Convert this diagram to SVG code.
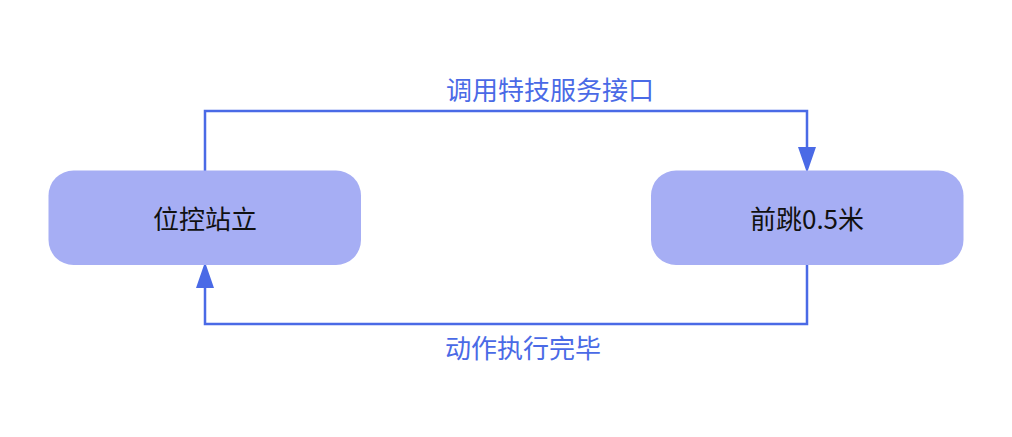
<svg xmlns="http://www.w3.org/2000/svg" width="1012" height="437" viewBox="0 0 1012 437">
<style>
.node{fill:#a6aef4;}
.ntext{font-family:"Noto Sans CJK SC","Noto Sans",sans-serif;font-size:26px;fill:#111;text-anchor:middle;}
.edge{fill:none;stroke:#4a6ae6;stroke-width:2.5;}
.elabel{font-family:"Noto Sans CJK SC","Noto Sans",sans-serif;font-size:26px;fill:#4a6ae6;}
.head{fill:#4a6ae6;}
</style>
<rect width="1012" height="437" fill="#ffffff"/>
<g id="connectors">
<g id="edge-top">
<path class="edge" d="M205,171 V111 H807 V148"/>
<polygon class="head" points="798,147 816,147 807,173"/>
<text class="elabel" x="446" y="99.5">调用特技服务接口</text>
</g>
<g id="edge-bottom">
<path class="edge" d="M807,265 V324 H205 V287"/>
<polygon class="head" points="196,288 214,288 205,262"/>
<text class="elabel" x="445" y="358">动作执行完毕</text>
</g>
</g>
<g id="node-stand">
<rect class="node" x="48.5" y="170.5" width="312.5" height="94.5" rx="25" ry="25"/>
<text class="ntext" x="205" y="229">位控站立</text>
</g>
<g id="node-jump">
<rect class="node" x="651" y="170.5" width="312.5" height="94.5" rx="25" ry="25"/>
<text class="ntext" x="807" y="229">前跳0.5米</text>
</g>
</svg>
